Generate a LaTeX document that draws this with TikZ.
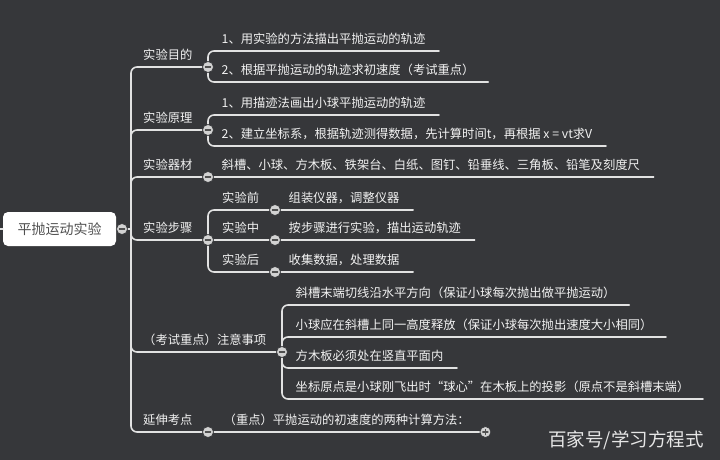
\documentclass[tikz,border=0pt]{standalone}
\usepackage{fontspec}
\setmainfont{Noto Sans CJK SC}
\definecolor{bggray}{HTML}{36373A}
\definecolor{linegray}{HTML}{E2E2E2}
\definecolor{txtgray}{HTML}{F2F2F2}
\definecolor{foldgray}{HTML}{D2D2D2}
\definecolor{rootgray}{HTML}{505050}
\definecolor{markgray}{HTML}{E6E6E6}
\tikzset{
  link/.style={color=linegray,line width=1.6pt,rounded corners=6pt},
  topic/.style={anchor=south west,text=txtgray,inner xsep=12pt,inner ysep=0pt,text depth=7pt,
    font=\fontsize{12.3pt}{14pt}\selectfont},
  leaf/.style={topic,inner xsep=13.5pt},
  root/.style={rounded corners=5pt,fill=white,minimum width=113pt,minimum height=34pt,inner sep=0pt,
    text=rootgray,font=\fontsize{14pt}{16pt}\selectfont},
  fold/.style={circle,fill=foldgray,draw=bggray,line width=0.7pt,minimum size=11pt,inner sep=0pt,
    path picture={\draw[rootgray,line width=1.3pt]
      ([xshift=-2.6pt]path picture bounding box.center) -- ([xshift=2.6pt]path picture bounding box.center);}},
  unfold/.style={circle,fill=foldgray,draw=bggray,line width=0.7pt,minimum size=11pt,inner sep=0pt,
    path picture={\draw[rootgray,line width=1.3pt]
      ([xshift=-2.6pt]path picture bounding box.center) -- ([xshift=2.6pt]path picture bounding box.center)
      ([yshift=-2.6pt]path picture bounding box.center) -- ([yshift=2.6pt]path picture bounding box.center);}}
}
\begin{document}
\begin{tikzpicture}[x=1pt,y=-1pt,line cap=round,line join=round]
  \useasboundingbox (0,0) rectangle (720,460);
  \fill[bggray] (0,0) rectangle (720,460);

  \node[root] (root) at (59.5,229) {平抛运动实验};
  \coordinate (stub) at (0,229);
  \coordinate (trunk) at (131,229);
  \coordinate (cRoot) at (122,229);
  \coordinate (b1) at (208,67);
  \coordinate (b2) at (208,130);
  \coordinate (b3) at (208,177);
  \coordinate (b4) at (208,240);
  \coordinate (b5) at (282,352);
  \coordinate (b6) at (208,432);
  \coordinate (s1) at (275,210);
  \coordinate (s2) at (275,240);
  \coordinate (s3) at (275,272);

  \node[topic] (mudi) at (131,67) {实验目的};
  \node[topic] (yuanli) at (131,130) {实验原理};
  \node[topic] (qicai) at (131,177) {实验器材};
  \node[topic] (buzhou) at (131,240) {实验步骤};
  \node[topic] (zhuyi) at (131,352) {（考试重点）注意事项};
  \node[topic] (yanshen) at (131,432) {延伸考点};

  \node[leaf] (mudiA) at (208,51) {1、用实验的方法描出平抛运动的轨迹};
  \node[leaf] (mudiB) at (208,82) {2、根据平抛运动的轨迹求初速度（考试重点）};
  \node[leaf] (yuanliA) at (208,115) {1、用描迹法画出小球平抛运动的轨迹};
  \node[leaf] (yuanliB) at (208,146) {2、建立坐标系，根据轨迹测得数据，先计算时间t，再根据 x = vt求V};
  \node[leaf] (qicaiA) at (208,177) {斜槽、小球、方木板、铁架台、白纸、图钉、铅垂线、三角板、铅笔及刻度尺};

  \node[topic,inner xsep=14pt] (qian) at (208,210) {实验前};
  \node[topic,inner xsep=14pt] (zhong) at (208,240) {实验中};
  \node[topic,inner xsep=14pt] (hou) at (208,272) {实验后};
  \node[leaf] (qianA) at (275,210) {组装仪器，调整仪器};
  \node[leaf] (zhongA) at (275,240) {按步骤进行实验，描出运动轨迹};
  \node[leaf] (houA) at (275,272) {收集数据，处理数据};

  \node[leaf] (zhuyiA) at (282,305) {斜槽末端切线沿水平方向（保证小球每次抛出做平抛运动）};
  \node[leaf] (zhuyiB) at (282,337) {小球应在斜槽上同一高度释放（保证小球每次抛出速度大小相同）};
  \node[leaf] (zhuyiC) at (282,368) {方木板必须处在竖直平面内};
  \node[leaf] (zhuyiD) at (282,399) {坐标原点是小球刚飞出时“球心”在木板上的投影（原点不是斜槽末端）};

  \node[leaf,inner xsep=15.5pt] (yanshenA) at (208,432) {（重点）平抛运动的初速度的两种计算方法：};

  \draw[link] (stub) -- (root.west);
  \draw[link] (root.east) -- (trunk);
  \foreach \b in {b1,b2,b3,b4,b5,b6}
    \draw[link] (trunk) |- (\b);
  \draw[link] (b1) |- (mudiA.south east);
  \draw[link] (b1) |- (mudiB.south east);
  \draw[link] (b2) |- (yuanliA.south east);
  \draw[link] (b2) |- (yuanliB.south east);
  \draw[link] (b3) -- (qicaiA.south east);
  \draw[link] (b4) |- (s1);
  \draw[link] (b4) -- (s2);
  \draw[link] (b4) |- (s3);
  \draw[link] (s1) -- (qianA.south east);
  \draw[link] (s2) -- (zhongA.south east);
  \draw[link] (s3) -- (houA.south east);
  \draw[link] (b5) |- (zhuyiA.south east);
  \draw[link] (b5) |- (zhuyiB.south east);
  \draw[link] (b5) |- (zhuyiC.south east);
  \draw[link] (b5) |- (zhuyiD.south east);
  \draw[link] (b6) -- (yanshenA.south east);

  \node[fold] (fRoot) at (cRoot) {};
  \foreach \b in {b1,b2,b3,b4,b5,b6,s1,s2,s3}
    \node[fold] (f\b) at (\b) {};
  \node[unfold] (fMore) at (yanshenA.south east) {};

  \node[anchor=base,text=markgray,font=\fontsize{18.5pt}{20pt}\selectfont] (mark) at (626,446) {百家号/学习方程式};
\end{tikzpicture}
\end{document}
